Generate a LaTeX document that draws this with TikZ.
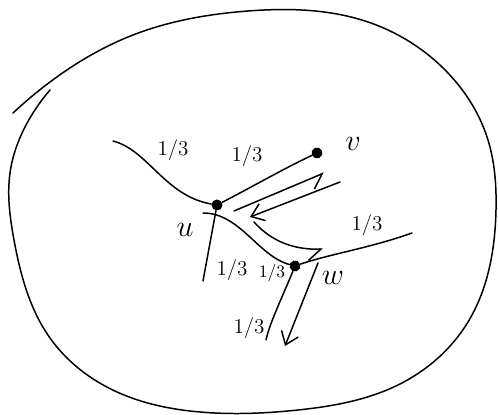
\documentclass[tikz,border=0pt]{standalone}
\usepackage{amsmath}
\usetikzlibrary{arrows.meta,hobby}
\tikzset{
  pen/.style={line width=0.85pt,line cap=round,line join=round},
  dot/.style={circle,fill,inner sep=0pt,minimum width=2.2mm,minimum height=1.8mm},
  weight/.style={font=\large,inner sep=1pt},
  vname/.style={font=\LARGE,inner sep=1pt},
  flow/.style={pen,-{Straight Barb[length=2.4mm,width=3.6mm]}},
  hookflow/.style={pen,-{Straight Barb[harpoon,swap,length=2.6mm,width=4.4mm]}}
}
\begin{document}
\begin{tikzpicture}[x=0.02cm,y=-0.02cm]
\useasboundingbox (0,0) rectangle (498,415);

\draw[pen,use Hobby shortcut] (13,113) .. (50,82) .. (133,35) .. (248,11) .. (365,21)
  .. (448,73) .. (488,140) .. (496,210) .. (468,322) .. (398,385) .. (298,410)
  .. (200,412) .. (117,392) .. (50,338) .. (14,240) .. (10,173) .. (33,113) .. (50,90);

\node[dot] (u) at (217,205) {};
\node[dot,rotate=25] (v) at (317,153) {};
\node[dot,rotate=60] (w) at (295,266) {};

\coordinate (a0) at (113,141);
\coordinate (uw0) at (203,213);
\coordinate (ud) at (203,281);
\coordinate (wr) at (412,233);
\coordinate (wd) at (266,340);
\coordinate (ua) at (234,211);
\coordinate (va) at (324,173);
\coordinate (vb) at (340,182);
\coordinate (ub) at (250,217);
\coordinate (uc) at (254,222);
\coordinate (wc) at (323,249);
\coordinate (wb) at (318,263);
\coordinate (wbe) at (285,346);

\draw[pen] (a0) .. controls (148,150) and (165,196) .. (u);
\draw[pen] (u) .. controls (250,188) and (285,168) .. (v);
\draw[pen] (uw0) .. controls (240,213) and (258,256) .. (w);
\draw[pen] (u) -- (ud);
\draw[pen] (w) .. controls (330,254) and (370,248) .. (wr);
\draw[pen] (w) .. controls (282,298) and (270,322) .. (wd);

\draw[hookflow] (ua) -- (va);
\draw[flow] (vb) -- (ub);
\draw[hookflow] (uc) .. controls (272,242) and (295,250) .. (wc);
\draw[flow] (wb) -- (wbe);

\node[weight] (l1) at (173,150) {1/3};
\node[weight] (l2) at (247,156) {1/3};
\node[weight] (l3) at (367,225) {1/3};
\node[weight] (l4) at (232,270) {1/3};
\node[weight,font=\normalsize] (l5) at (272,273) {1/3};
\node[weight] (l6) at (249,328) {1/3};

\node[vname] (nu) at (185,230) {$u$};
\node[vname] (nv) at (353,144) {$v$};
\node[vname] (nw) at (333,278) {$w$};
\end{tikzpicture}
\end{document}
